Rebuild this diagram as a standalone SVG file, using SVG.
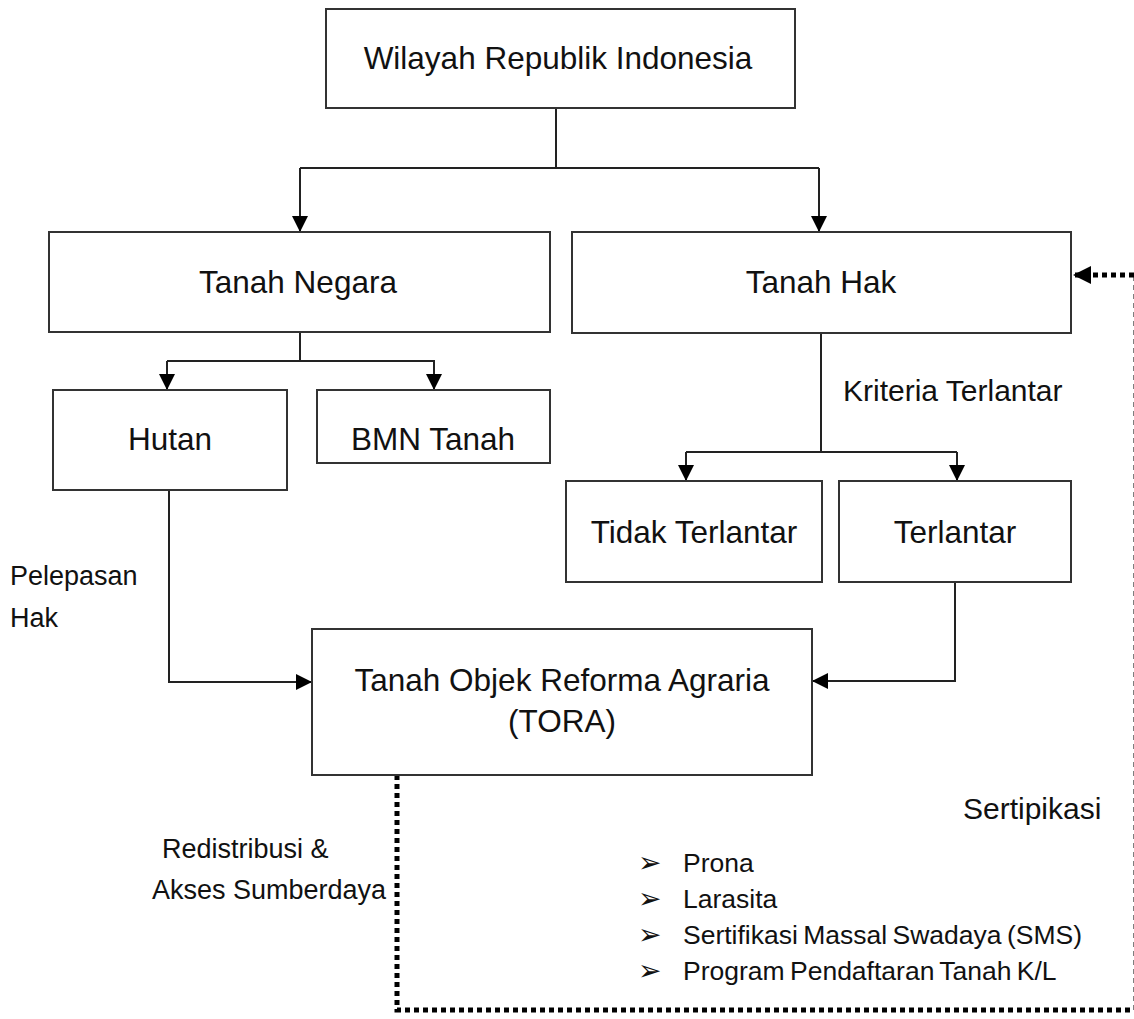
<svg xmlns="http://www.w3.org/2000/svg" width="1134" height="1019" viewBox="0 0 1134 1019">
<defs>
<marker id="ah" viewBox="0 0 10 10" refX="10" refY="5" markerWidth="8" markerHeight="8" markerUnits="strokeWidth" orient="auto">
<path d="M0,0 L10,5 L0,10 z" fill="#000"/>
</marker>
<marker id="ahd" viewBox="0 0 10 10" refX="10" refY="5" markerWidth="3.6" markerHeight="3.6" markerUnits="strokeWidth" orient="auto">
<path d="M0,0 L10,5 L0,10 z" fill="#000"/>
</marker>
</defs>
<style>
.box{fill:#fff;stroke:#333;stroke-width:2}
.t{font-family:"Liberation Sans",Arial,sans-serif;font-size:31.5px;fill:#111;text-anchor:middle}
.l{font-family:"Liberation Sans",Arial,sans-serif;font-size:27px;fill:#111}
.k{font-family:"Liberation Sans",Arial,sans-serif;font-size:30px;fill:#111}
.b{font-family:"Liberation Sans",Arial,sans-serif;font-size:26.5px;fill:#111}
.bu{font-family:"DejaVu Sans",sans-serif;font-size:28px;fill:#111}
.c{fill:none;stroke:#222;stroke-width:2}
.d{fill:none;stroke:#000;stroke-width:5;stroke-dasharray:5 4}
</style>
<rect width="1134" height="1019" fill="#fff"/>
<g id="connectors">
<path class="c" d="M556,108 V168"/>
<path class="c" d="M300,168 H819"/>
<path class="c" d="M300,168 V232" marker-end="url(#ah)"/>
<path class="c" d="M819,168 V232" marker-end="url(#ah)"/>
<path class="c" d="M300,332 V361 H167"/>
<path class="c" d="M167,361 V390" marker-end="url(#ah)"/>
<path class="c" d="M300,361 H434 V390" marker-end="url(#ah)"/>
<path class="c" d="M821,333 V452"/>
<path class="c" d="M686,452 H957"/>
<path class="c" d="M686,452 V481" marker-end="url(#ah)"/>
<path class="c" d="M957,452 V481" marker-end="url(#ah)"/>
<path class="c" d="M169,490 V682 H312" marker-end="url(#ah)"/>
<path class="c" d="M955,582 V681 H812" marker-end="url(#ah)"/>
<path class="d" d="M397,775 V1010 H1134"/>
<path class="d" d="M1136,1010 V275"/>
<path class="d" d="M1134,275 H1073" marker-end="url(#ahd)"/>
</g>
<g id="n-wilayah"><rect class="box" x="326" y="9" width="469" height="99"/><text class="t" x="558" y="69">Wilayah Republik Indonesia</text></g>
<g id="n-negara"><rect class="box" x="49" y="232" width="501" height="100"/><text class="t" x="298" y="293">Tanah Negara</text></g>
<g id="n-hak"><rect class="box" x="572" y="232" width="499" height="101"/><text class="t" x="821" y="293">Tanah Hak</text></g>
<g id="n-hutan"><rect class="box" x="53" y="390" width="234" height="100"/><text class="t" x="170" y="450">Hutan</text></g>
<g id="n-bmn"><rect class="box" x="317" y="390" width="233" height="73"/><text class="t" x="433" y="450">BMN Tanah</text></g>
<g id="n-tidak"><rect class="box" x="566" y="481" width="256" height="101"/><text class="t" x="694" y="543">Tidak Terlantar</text></g>
<g id="n-terlantar"><rect class="box" x="839" y="481" width="232" height="101"/><text class="t" x="955" y="543">Terlantar</text></g>
<g id="n-tora"><rect class="box" x="312" y="629" width="500" height="146"/><text class="t" x="562" y="691">Tanah Objek Reforma Agraria</text><text class="t" x="562" y="732">(TORA)</text></g>
<g id="labels">
<text class="k" x="843" y="401">Kriteria Terlantar</text>
<text class="l" x="10" y="585">Pelepasan</text>
<text class="l" x="10" y="627">Hak</text>
<text class="l" x="162" y="858">Redistribusi &amp;</text>
<text class="l" x="152" y="899">Akses Sumberdaya</text>
<text class="k" x="963" y="819">Sertipikasi</text>
<text class="bu" x="638" y="872">➢</text><text class="b" x="683" y="872">Prona</text>
<text class="bu" x="638" y="908">➢</text><text class="b" x="683" y="908">Larasita</text>
<text class="bu" x="638" y="944">➢</text><text class="b" x="683" y="944" word-spacing="-2">Sertifikasi Massal Swadaya (SMS)</text>
<text class="bu" x="638" y="980">➢</text><text class="b" x="683" y="980" word-spacing="-2">Program Pendaftaran Tanah K/L</text>
</g>
</svg>
